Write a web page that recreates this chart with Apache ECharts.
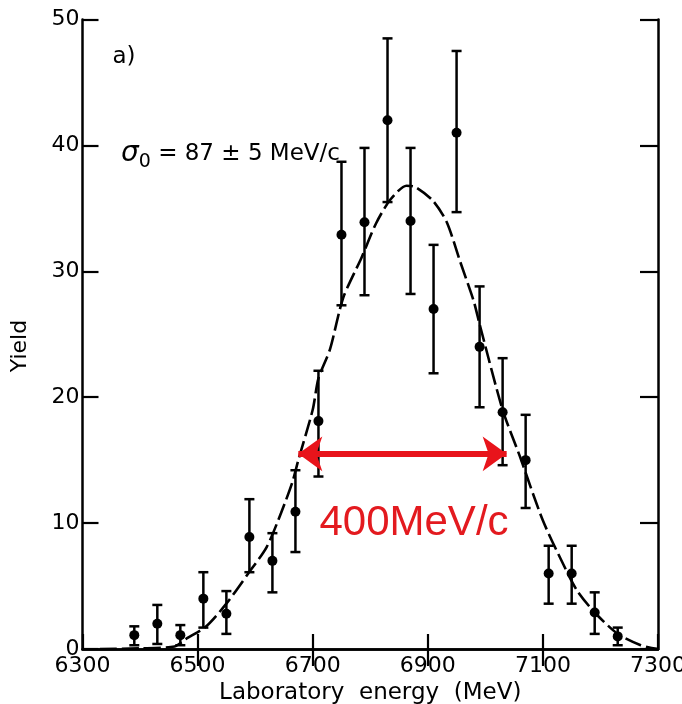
<!DOCTYPE html>
<html>
<head>
<meta charset="utf-8">
<script src="https://cdn.jsdelivr.net/npm/echarts@6/dist/echarts.min.js"></script>
<style>
  html, body { margin: 0; padding: 0; background: #fff; }
  #chart { width: 682px; height: 704px; }
</style>
</head>
<body>
<div id="chart"></div>
<script>
// Measured yield per laboratory-energy bin, with error-bar limits
const energies = [6390, 6430, 6470, 6510, 6550, 6590, 6630, 6670, 6710, 6750, 6790,
                  6830, 6870, 6910, 6950, 6990, 7030, 7070, 7110, 7150, 7190, 7230];
const yields   = [1.1, 2.0, 1.1, 4.0, 2.8, 8.9, 7.0, 10.9, 18.1, 32.9, 33.9,
                  42.0, 34.0, 27.0, 41.0, 24.0, 18.8, 15.0, 6.0, 6.0, 2.9, 1.0];
const errLow   = [0.3, 0.4, 0.3, 1.7, 1.2, 6.1, 4.5, 7.7, 13.7, 27.3, 28.1,
                  35.5, 28.2, 21.9, 34.7, 19.2, 14.6, 11.2, 3.6, 3.6, 1.2, 0.3];
const errHigh  = [1.8, 3.5, 1.9, 6.1, 4.6, 11.9, 9.2, 14.2, 22.1, 38.7, 39.8,
                  48.5, 39.8, 32.1, 47.5, 28.8, 23.1, 18.6, 8.2, 8.2, 4.5, 1.7];

// Fitted curve (dashed)
const curveEnergy = [6330, 6400, 6460, 6480, 6515, 6550, 6588, 6620, 6645, 6665, 6675,
                     6700, 6710, 6730, 6753, 6785, 6810, 6835, 6863, 6878, 6909, 6933,
                     6956, 6980, 6990, 7030, 7060, 7100, 7140, 7160, 7190, 7230, 7270, 7300];
const curveYield  = [0, 0.05, 0.2, 0.8, 1.8, 3.6, 6.0, 8.1, 10.8, 13.3, 15.0,
                     19.0, 21.5, 23.8, 27.9, 31.1, 33.8, 35.7, 36.8, 36.7, 35.6, 33.9,
                     30.8, 27.6, 25.8, 19.0, 15.3, 10.2, 6.3, 4.6, 2.9, 1.2, 0.3, 0];

// Width marker (double arrow) and its label
const widthSpan  = [6675, 7037];
const widthLevel = 15.5;
const widthLabel = '400MeV/c';

// Axis ticks
const xTicks = [6300, 6500, 6700, 6900, 7100, 7300];
const yTicks = [0, 10, 20, 30, 40, 50];

const INK = '#000';
const FONT = '"DejaVu Sans", sans-serif';

const chart = echarts.init(document.getElementById('chart'), null, { renderer: 'canvas' });

const pts = energies.map((e, i) => [e, yields[i]]);
const bars = energies.map((e, i) => [e, errLow[i], errHigh[i]]);
const curve = curveEnergy.map((e, i) => [e, curveYield[i]]);

function errorBar(params, api) {
  const x = api.value(0);
  const lo = api.coord([x, api.value(1)]);
  const hi = api.coord([x, api.value(2)]);
  const h = 5;
  const style = { stroke: INK, lineWidth: 2.5, fill: null };
  return {
    type: 'group',
    children: [
      { type: 'line', shape: { x1: lo[0], y1: lo[1], x2: hi[0], y2: hi[1] }, style },
      { type: 'line', shape: { x1: hi[0] - h, y1: hi[1], x2: hi[0] + h, y2: hi[1] }, style },
      { type: 'line', shape: { x1: lo[0] - h, y1: lo[1], x2: lo[0] + h, y2: lo[1] }, style }
    ]
  };
}

const frameLine = { show: true, lineStyle: { color: INK, width: 2.5 } };

chart.setOption({
  animation: false,
  backgroundColor: '#fff',
  grid: { left: 82.5, right: 24, top: 19.5, bottom: 55, containLabel: false, outerBoundsMode: 'none' },
  xAxis: [
    {
      type: 'value', min: 6300, max: 7300, position: 'bottom',
      axisLine: frameLine,
      axisTick: { show: true, inside: true, length: 15, customValues: xTicks,
                  lineStyle: { color: INK, width: 2.2 } },
      axisLabel: { show: true, customValues: xTicks, color: INK, fontFamily: FONT,
                   fontSize: 22, margin: 6, formatter: v => String(v) },
      splitLine: { show: false },
      name: 'Laboratory  energy  (MeV)', nameLocation: 'middle', nameGap: 31,
      nameTextStyle: { color: INK, fontFamily: FONT, fontSize: 23 }
    },
    {
      type: 'value', min: 6300, max: 7300, position: 'top',
      axisLine: frameLine,
      axisTick: { show: true, inside: true, length: 17,
                  customValues: xTicks.slice(1, -1), lineStyle: { color: INK, width: 2.2 } },
      axisLabel: { show: false },
      splitLine: { show: false }
    }
  ],
  yAxis: [
    {
      type: 'value', min: 0, max: 50, interval: 10, position: 'left',
      axisLine: frameLine,
      axisTick: { show: true, inside: true, length: 16, lineStyle: { color: INK, width: 2.2 } },
      axisLabel: { show: true, color: INK, fontFamily: FONT, fontSize: 22, margin: 3 },
      splitLine: { show: false }
    },
    {
      type: 'value', min: 0, max: 50, interval: 10, position: 'right',
      axisLine: frameLine,
      axisTick: { show: true, inside: true, length: 18, lineStyle: { color: INK, width: 2.2 } },
      axisLabel: { show: false },
      splitLine: { show: false }
    }
  ],
  series: [
    {
      name: 'fit', type: 'line', data: curve, xAxisIndex: 0, yAxisIndex: 0,
      showSymbol: false, smooth: 0.25, silent: true,
      lineStyle: { color: INK, width: 2.6, type: [17, 5] },
      markLine: {
        silent: true,
        symbol: ['arrow', 'arrow'],
        symbolSize: [26, 24],
        label: { show: false },
        lineStyle: { color: '#e8141b', width: 6, type: 'solid' },
        data: [[{ coord: [widthSpan[0], widthLevel] }, { coord: [widthSpan[1], widthLevel] }]]
      },
      z: 2
    },
    {
      name: 'errors', type: 'custom', data: bars, xAxisIndex: 0, yAxisIndex: 0,
      renderItem: errorBar, silent: true, z: 3
    },
    {
      name: 'yield', type: 'scatter', data: pts, xAxisIndex: 0, yAxisIndex: 0,
      symbol: 'circle', symbolSize: 10, silent: true,
      itemStyle: { color: INK, opacity: 1 }, z: 4
    }
  ],
  graphic: [
    {
      type: 'text', x: 124, y: 57,
      style: { text: 'a)', font: '23px ' + FONT, fill: INK, align: 'center', verticalAlign: 'middle' }
    },
    {
      type: 'text', x: 121, y: 154,
      style: {
        text: '{s|σ}{sub|0}{t| = 87 ± 5 MeV/c}',
        align: 'left', verticalAlign: 'middle',
        rich: {
          s: { fontFamily: FONT, fontSize: 28, fill: INK, fontStyle: 'italic' },
          sub: { fontFamily: FONT, fontSize: 19, fill: INK, padding: [16, 0, 0, 0] },
          t: { fontFamily: FONT, fontSize: 23, fill: INK }
        }
      }
    },
    {
      type: 'text', x: 414, y: 523,
      style: { text: widthLabel, font: '42px "Liberation Sans", Arial, sans-serif',
               fill: '#e31a1f', align: 'center', verticalAlign: 'middle' }
    },
    {
      type: 'text', x: 20, y: 346, rotation: Math.PI / 2,
      style: { text: 'Yield', font: '22px ' + FONT, fill: INK, align: 'center', verticalAlign: 'middle' }
    }
  ]
});
</script>
</body>
</html>
